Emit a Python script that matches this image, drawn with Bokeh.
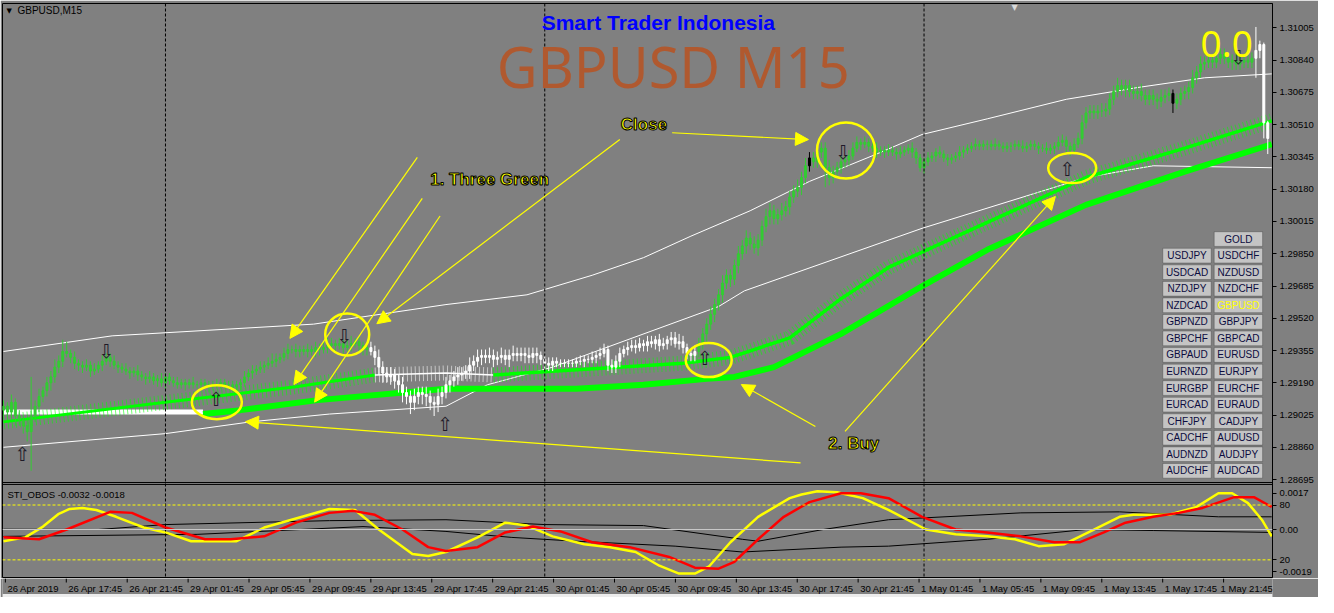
from bokeh.plotting import figure
from bokeh.layouts import column
from bokeh.models import (ColumnDataSource, FixedTicker, Span, Arrow, NormalHead, Label,
                          BoxAnnotation, Range1d)
from bokeh.core.properties import value
from bokeh.embed import file_html
from bokeh.resources import INLINE

# ---------------- data (GBPUSD M15, bar index 0 = 26 Apr 13:45) ----------------
closes = [
    1.2907, 1.2904, 1.2909, 1.2902, 1.2900, 1.2897, 1.2894, 1.2902, 1.2907, 1.2912,
    1.2915, 1.2919, 1.2922, 1.2927, 1.2930, 1.2935, 1.2934, 1.2932, 1.2929, 1.2928,
    1.2927, 1.2928, 1.2925, 1.2926, 1.2928, 1.2930, 1.2932, 1.2930, 1.2928, 1.2927,
    1.2926, 1.2925, 1.2924, 1.2925, 1.2923, 1.2922, 1.2921, 1.2922, 1.2920, 1.2921,
    1.2919, 1.2922, 1.2920, 1.2919, 1.2918, 1.2919, 1.2918, 1.2919, 1.2918, 1.2918,
    1.2919, 1.2918, 1.2917, 1.2918, 1.2918, 1.2919, 1.2918, 1.2918, 1.2917, 1.2918,
    1.2919, 1.2922, 1.2924, 1.2925, 1.2926, 1.2927, 1.2928, 1.2929, 1.2930, 1.2931,
    1.2932, 1.2934, 1.2936, 1.2936, 1.2935, 1.2936, 1.2935, 1.2936, 1.2935, 1.2937,
    1.2936, 1.2937, 1.2938, 1.2939, 1.2938, 1.2939, 1.2937, 1.2938, 1.2939, 1.2940,
    1.2938, 1.2936, 1.2937, 1.2935, 1.2932, 1.2927, 1.2924, 1.2922, 1.2923, 1.2920,
    1.2918, 1.2914, 1.2912, 1.2909, 1.2912, 1.2914, 1.2913, 1.2912, 1.2909, 1.2908,
    1.2912, 1.2914, 1.2918, 1.2920, 1.2922, 1.2923, 1.2924, 1.2925, 1.2928, 1.2930,
    1.2932, 1.2933, 1.2932, 1.2933, 1.2931, 1.2932, 1.2933, 1.2931, 1.2933, 1.2934,
    1.2933, 1.2934, 1.2933, 1.2932, 1.2934, 1.2933, 1.2931, 1.2929, 1.2928, 1.2930,
    1.2929, 1.2929, 1.2929, 1.2929, 1.2929, 1.2930, 1.2930, 1.2931, 1.2931, 1.2932,
    1.2933, 1.2934, 1.2936, 1.2928, 1.2927, 1.2930, 1.2934, 1.2936, 1.2937, 1.2938,
    1.2937, 1.2939, 1.2938, 1.2940, 1.2939, 1.2941, 1.2938, 1.2939, 1.2941, 1.2942,
    1.2939, 1.2940, 1.2937, 1.2934, 1.2933, 1.2935, 1.2939, 1.2944, 1.2949, 1.2954,
    1.2959, 1.2964, 1.2970, 1.2974, 1.2972, 1.2979, 1.2985, 1.2989, 1.2993, 1.2990,
    1.2988, 1.2992, 1.2999, 1.3004, 1.3007, 1.3003, 1.3005, 1.3007, 1.3009, 1.3014,
    1.3017, 1.3019, 1.3024, 1.3030, 1.3034, 1.3032, 1.3037, 1.3039, 1.3029, 1.3024,
    1.3027, 1.3029, 1.3032, 1.3033, 1.3035, 1.3039, 1.3042, 1.3041, 1.3042, 1.3040,
    1.3039, 1.3037, 1.3038, 1.3037, 1.3038, 1.3037, 1.3036, 1.3037, 1.3038, 1.3039,
    1.3037, 1.3034, 1.3029, 1.3032, 1.3034, 1.3035, 1.3037, 1.3036, 1.3034, 1.3033,
    1.3034, 1.3035, 1.3037, 1.3038, 1.3039, 1.3040, 1.3041, 1.3040, 1.3041, 1.3041,
    1.3040, 1.3041, 1.3040, 1.3039, 1.3040, 1.3040, 1.3041, 1.3040, 1.3039, 1.3040,
    1.3041, 1.3040, 1.3039, 1.3039, 1.3038, 1.3039, 1.3040, 1.3042, 1.3043, 1.3040,
    1.3038, 1.3041, 1.3044, 1.3052, 1.3057, 1.3058, 1.3057, 1.3058, 1.3058, 1.3059,
    1.3064, 1.3068, 1.3071, 1.3069, 1.3071, 1.3068, 1.3067, 1.3068, 1.3066, 1.3064,
    1.3066, 1.3064, 1.3063, 1.3065, 1.3066, 1.3067, 1.3062, 1.3064, 1.3067, 1.3068,
    1.3070, 1.3075, 1.3078, 1.3082, 1.3083, 1.3084, 1.3083, 1.3085, 1.3087, 1.3085,
    1.3083, 1.3084, 1.3082, 1.3083, 1.3084, 1.3083, 1.3085, 1.3089, 1.3092, 1.3052,
    1.3044]
first_open = 1.2905
# wick lengths in pips (0.0001) above / below the candle body
wick_up = [
    3, 2, 4, 2, 3, 2, 3, 20, 3, 4, 2, 3, 3, 4, 3, 6, 5, 2, 3, 2,
    2, 3, 2, 3, 2, 3, 2, 2, 3, 2, 2, 3, 2, 2, 3, 2, 2, 3, 2, 2,
    3, 2, 2, 2, 3, 2, 2, 2, 3, 2, 2, 2, 2, 2, 3, 2, 2, 2, 2, 2,
    2, 3, 2, 3, 2, 3, 2, 3, 4, 3, 2, 3, 3, 2, 3, 2, 2, 3, 2, 3,
    2, 3, 4, 3, 2, 3, 2, 3, 4, 2, 3, 2, 3, 3, 3, 4, 3, 3, 4, 3,
    3, 4, 3, 3, 4, 3, 3, 4, 3, 3, 4, 3, 4, 3, 3, 4, 3, 3, 4, 3,
    4, 3, 3, 4, 3, 3, 4, 3, 3, 4, 3, 3, 3, 4, 3, 3, 2, 2, 3, 2,
    2, 2, 2, 2, 2, 2, 3, 2, 2, 3, 2, 3, 3, 2, 3, 3, 3, 2, 3, 3,
    3, 3, 2, 3, 3, 2, 3, 3, 2, 3, 3, 4, 3, 2, 2, 3, 3, 3, 3, 4,
    3, 3, 4, 3, 3, 3, 4, 3, 4, 3, 4, 3, 3, 4, 4, 3, 3, 4, 3, 3,
    3, 4, 3, 4, 3, 3, 4, 3, 3, 4, 3, 3, 3, 2, 3, 3, 3, 2, 3, 2,
    2, 3, 2, 2, 3, 2, 2, 3, 2, 2, 3, 2, 2, 2, 3, 2, 2, 3, 2, 2,
    2, 2, 3, 2, 2, 2, 3, 2, 2, 2, 2, 3, 2, 2, 2, 2, 2, 2, 3, 2,
    2, 2, 2, 2, 3, 2, 2, 3, 3, 2, 2, 3, 3, 4, 3, 3, 3, 3, 4, 3,
    3, 3, 4, 3, 3, 3, 3, 3, 4, 3, 3, 3, 3, 4, 3, 3, 2, 3, 3, 3,
    3, 4, 3, 4, 3, 3, 3, 4, 3, 3, 3, 3, 3, 3, 3, 3, 3, 12, 2, 1,
    1]
wick_dn = [
    3, 4, 3, 5, 3, 4, 5, 20, 3, 3, 3, 3, 4, 3, 3, 3, 2, 3, 3, 3,
    3, 2, 3, 2, 2, 3, 2, 3, 2, 3, 2, 2, 3, 2, 3, 2, 3, 2, 2, 3,
    2, 3, 2, 2, 2, 2, 3, 2, 2, 2, 2, 2, 3, 2, 2, 2, 2, 2, 3, 2,
    3, 2, 2, 3, 2, 2, 3, 2, 2, 3, 2, 2, 3, 2, 3, 3, 2, 3, 2, 3,
    3, 2, 3, 2, 3, 2, 3, 2, 3, 2, 3, 3, 3, 2, 4, 4, 5, 3, 4, 4,
    4, 5, 4, 6, 4, 4, 5, 5, 4, 6, 4, 4, 3, 4, 3, 4, 3, 3, 4, 3,
    3, 4, 3, 3, 4, 3, 3, 3, 4, 3, 3, 3, 4, 3, 3, 4, 3, 3, 3, 3,
    2, 2, 2, 2, 2, 2, 2, 3, 2, 2, 3, 2, 2, 3, 3, 3, 3, 2, 3, 2,
    3, 2, 3, 3, 2, 3, 3, 2, 3, 3, 2, 3, 3, 3, 3, 3, 3, 3, 4, 3,
    4, 3, 4, 3, 4, 3, 4, 3, 4, 3, 3, 4, 3, 3, 4, 3, 3, 3, 3, 4,
    3, 3, 4, 3, 3, 3, 3, 3, 10, 4, 3, 3, 3, 3, 3, 2, 2, 3, 2, 3,
    2, 3, 2, 3, 2, 2, 3, 2, 2, 2, 3, 3, 2, 3, 2, 2, 3, 2, 2, 3,
    2, 2, 2, 3, 2, 2, 2, 2, 2, 3, 2, 2, 2, 2, 2, 3, 2, 2, 2, 2,
    2, 2, 3, 2, 2, 2, 3, 2, 2, 3, 3, 2, 2, 3, 3, 3, 3, 3, 3, 3,
    3, 3, 3, 3, 4, 3, 3, 3, 3, 3, 3, 3, 4, 3, 3, 3, 5, 3, 3, 3,
    4, 3, 3, 3, 3, 3, 3, 3, 3, 3, 3, 4, 3, 3, 3, 3, 3, 10, 4, 8,
    8]
white_spans = [(93, 175), (317, 320)]   # bars drawn white (down-trend colouring)
black_bars = [204, 296]

# moving averages / bands (bar index, price)
fast_x = [0, 41, 74, 94, 112, 124, 172, 184, 199, 212, 224, 249, 274, 299, 321]
fast_y = [1.2899, 1.2909, 1.2917, 1.2923, 1.2924, 1.2923, 1.2929, 1.2932, 1.2942,
          1.2962, 1.2978, 1.3001, 1.3024, 1.3039, 1.3053]
slow_white_x = [0, 50.5]
slow_white_y = [1.2904, 1.2904]
slow_x = [50.5, 60, 79, 112, 145, 162, 178, 185, 195, 199, 212, 233, 249, 274, 299, 321]
slow_y = [1.2903, 1.2905, 1.2910, 1.2916, 1.2916, 1.2918, 1.2921, 1.2922, 1.2927,
          1.2931, 1.2944, 1.2969, 1.2987, 1.3010, 1.3027, 1.3041]
upper_x = [0, 27.5, 78.5, 112, 132.5, 149, 162, 174, 189, 204, 221, 232.5, 249, 269, 287, 304, 321]
upper_y = [1.2935, 1.2943, 1.2949, 1.2959, 1.2964, 1.2974, 1.2983, 1.2994, 1.3007,
           1.3022, 1.3036, 1.3046, 1.3054, 1.3064, 1.3070, 1.3075, 1.3077]
lower_x = [0, 41, 62.5, 82.5, 112, 122.5, 139, 181, 187.5, 232.5, 274, 291, 321]
lower_y = [1.2886, 1.2893, 1.2899, 1.2903, 1.2907, 1.2918, 1.2927, 1.2958, 1.2966,
           1.2998, 1.3024, 1.3030, 1.3029]

# STI_OBOS sub-window (oscillator units), (bar, value)
yellow_pts = [(0, 40.4), (5.5, 44.6), (10, 56.4), (14, 70.4), (16.75, 75.7), (20, 76.8),
              (23.5, 74.6), (28.5, 67.1), (35.5, 55.4), (41, 50.0), (47.5, 40.4), (59, 40.4),
              (66, 55.4), (82.5, 75.7), (89, 74.6), (95, 53.2), (103.5, 26.4), (107.5, 24.3),
              (112, 28.6), (120, 44.6), (127, 60.7), (132.5, 57.5), (139, 45.7), (147, 37.1),
              (153.5, 33.9), (160, 28.6), (166, 13.6), (171, 5.0), (175, 5.0), (178.5, 12.5),
              (184, 39.3), (191, 67.1), (199, 87.5), (202, 91.5), (206, 95.0), (211, 93.9),
              (214, 91.0), (217.5, 87.5), (224, 74.6), (233.5, 53.2), (241, 47.9), (249, 45.7),
              (256, 42.5), (262, 35.0), (268.5, 37.1), (276, 53.2), (282.5, 67.1), (286, 69.3),
              (295, 69.3), (302, 77.9), (307.5, 92.9), (311, 92.9), (315, 82.1), (318.5, 63.9),
              (321, 45.7)]
red_pts = [(0, 44.6), (9, 42.5), (16, 53.2), (27, 72.5), (32.5, 71.4), (41, 55.4), (51, 42.5),
           (57.5, 42.5), (66, 45.7), (74, 60.7), (82.5, 71.4), (88.5, 73.6), (94, 69.3),
           (101, 53.2), (107.5, 33.9), (112, 29.6), (120, 33.9), (127, 50.0), (134, 56.4),
           (141, 51.1), (149, 39.3), (158.5, 33.9), (168.5, 23.2), (175, 11.4), (181, 10.4),
           (185, 17.9), (191, 42.5), (197.5, 67.1), (204, 83.2), (212, 92.9), (217, 92.9),
           (224, 87.5), (232.5, 67.1), (241, 53.2), (249, 50.0), (257.5, 45.7), (266, 39.3),
           (272.5, 39.3), (278.5, 50.0), (284, 60.7), (291, 67.1), (297.5, 71.4), (303.5, 76.8),
           (311.5, 88.6), (316.5, 88.6), (321, 77.9)]
blacka_pts = [(0, 53.5), (24, 53.2), (41, 58.6), (82.5, 62.9), (112, 63.9), (137, 58.6),
              (162, 57.5), (187, 42.5), (191, 40.4), (207.5, 53.2), (224, 63.9), (257.5, 71.4),
              (282.5, 72.5), (307.5, 67.1), (321, 67.1)]
blackb_pts = [(0, 45.7), (49, 47.9), (91, 56.4), (112, 51.1), (128.5, 44.6), (145, 40.4),
              (170, 35.0), (187, 28.6), (212, 33.9), (224, 35.0), (249, 42.5), (274, 53.2),
              (291, 52.1), (321, 50.0)]
ind_ticks = [92.9, 80.0, 53.2, 20.0, 7.1]
ind_tick_labels = ["0.0017", "80", "0.00", "20", "-0.0019"]
zero_level = 53.2
ob_level, os_level = 80.0, 20.0

price_ticks = [1.31005, 1.30840, 1.30675, 1.30510, 1.30345, 1.30180, 1.30015, 1.29850,
               1.29685, 1.29520, 1.29355, 1.29190, 1.29025, 1.28860, 1.28695]
time_tick_bars = list(range(0, 321, 16))
time_tick_labels = ["26 Apr 2019", "26 Apr 17:45", "26 Apr 21:45", "29 Apr 01:45",
                    "29 Apr 05:45", "29 Apr 09:45", "29 Apr 13:45", "29 Apr 17:45",
                    "29 Apr 21:45", "30 Apr 01:45", "30 Apr 05:45", "30 Apr 09:45",
                    "30 Apr 13:45", "30 Apr 17:45", "30 Apr 21:45", "1 May 01:45",
                    "1 May 05:45", "1 May 09:45", "1 May 13:45", "1 May 17:45", "1 May 21:45"]
day_breaks = [41, 137, 233]

# annotations drawn on the chart (bar index, price)
arrow_x0 = [104.75, 106.0, 110.5, 156.0, 169.25, 205.5, 201.75, 213.0]
arrow_y0 = [1.30343, 1.30133, 1.30043, 1.30434, 1.30469, 1.28966, 1.28780, 1.28941]
arrow_x1 = [72.5, 73.5, 78.75, 94.5, 203.75, 186.75, 61.25, 266.25]
arrow_y1 = [1.29417, 1.29181, 1.29091, 1.29492, 1.30434, 1.29181, 1.28991, 1.30143]
ring_x = [54.0, 87.0, 178.5, 213.25, 270.5]
ring_y = [1.29091, 1.29437, 1.29306, 1.30378, 1.30288]
ring_w = [50, 44, 46, 58, 48]
ring_h = [34, 42, 34, 56, 30]
up_x = [4.75, 53.75, 111.75, 177.5, 269.25]
up_y = [1.28825, 1.29106, 1.28981, 1.29316, 1.30283]
dn_x = [26.0, 86.25, 212.5, 312.5]
dn_y = [1.29351, 1.29427, 1.30368, 1.30854]
note_text = ["1. Three Green", "Close", "2. Buy"]
note_x = [108.0, 156.25, 208.75]
note_y = [1.30228, 1.30509, 1.28881]

pairs_left = [None, "USDJPY", "USDCAD", "NZDJPY", "NZDCAD", "GBPNZD", "GBPCHF", "GBPAUD",
              "EURNZD", "EURGBP", "EURCAD", "CHFJPY", "CADCHF", "AUDNZD", "AUDCHF"]
pairs_right = ["GOLD", "USDCHF", "NZDUSD", "NZDCHF", "GBPUSD", "GBPJPY", "GBPCAD", "EURUSD",
               "EURJPY", "EURCHF", "EURAUD", "CADJPY", "AUDUSD", "AUDJPY", "AUDCAD"]
active_pair = "GBPUSD"

# ---------------- derived candle table ----------------
n = len(closes)
bars = list(range(n))
opens = [first_open] + closes[:-1]
highs = [max(o, c) + u * 0.0001 for o, c, u in zip(opens, closes, wick_up)]
lows = [min(o, c) - d * 0.0001 for o, c, d in zip(opens, closes, wick_dn)]
colors = []
for i in bars:
    col = "#33cc33"
    for a, b in white_spans:
        if a <= i <= b:
            col = "white"
    if i in black_bars:
        col = "black"
    colors.append(col)
candles = ColumnDataSource(dict(x=bars, h=highs, l=lows,
                                top=[max(o, c) for o, c in zip(opens, closes)],
                                bottom=[min(o, c) for o, c in zip(opens, closes)],
                                color=colors))

# ---------------- geometry ----------------
BG = "#808080"
FONT = "Liberation Sans"
W = 1318
LB, RB = 2, 46
FRAME_W = W - LB - RB
H_MAIN = 578
TOP_B, BOT_B = 3, 1
FRAME_H = H_MAIN - TOP_B - BOT_B
H_STRIP = 597 - H_MAIN
X0, X1 = -0.25, 321.2
PX_PER_BAR = FRAME_W / (X1 - X0)

# reference panel geometry (pixels of the MT4 window) used to stack both panes in one frame
REF_TOP, REF_SPLIT, REF_IND_TOP, REF_BOT = 3, 492, 494, 589
P_MAIN_LO, P_TOP = 1.28680, 1.31130
p_per_px = (P_TOP - P_MAIN_LO) / (REF_SPLIT - REF_TOP)
P_LO = P_TOP - (REF_BOT - REF_TOP) * p_per_px
IND_LO, IND_HI = 0.7, 102.5
i_per_px = (IND_HI - IND_LO) / (REF_BOT - REF_IND_TOP)
IND_TOP = IND_LO + (REF_BOT - REF_TOP) * i_per_px


def ind_to_price(v):
    return P_LO + (v - IND_LO) / (IND_TOP - IND_LO) * (P_TOP - P_LO)


p = figure(width=W, height=H_MAIN, x_range=Range1d(X0, X1), y_range=Range1d(P_LO, P_TOP),
           output_backend="svg", toolbar_location=None, x_axis_location=None,
           y_axis_location="right", min_border_left=LB, min_border_right=RB,
           min_border_top=TOP_B, min_border_bottom=BOT_B, background_fill_color=BG,
           border_fill_color=BG, outline_line_color="black", outline_line_width=1)
p.extra_y_ranges = {"ind": Range1d(IND_LO, IND_TOP)}
p.grid.visible = False

all_ticks = price_ticks + [ind_to_price(v) for v in ind_ticks]
all_labels = ["%.5f" % t for t in price_ticks] + ind_tick_labels
ya = p.yaxis[0]
ya.ticker = FixedTicker(ticks=all_ticks, minor_ticks=[])
ya.major_label_overrides = dict(zip(all_ticks, all_labels))
ya.major_label_text_font = FONT
ya.major_label_text_font_size = "9.5px"
ya.major_label_text_color = "black"
ya.axis_line_color = "black"
ya.major_tick_line_color = "black"
ya.major_tick_out = 4
ya.major_tick_in = 0
ya.minor_tick_out = 0
ya.minor_tick_in = 0
ya.major_label_standoff = 3

# pane separators
p.add_layout(Span(location=P_MAIN_LO, dimension="width", line_color="black", line_width=1))
p.add_layout(Span(location=IND_HI, dimension="width", y_range_name="ind",
                  line_color="black", line_width=1))

for d in day_breaks:
    p.add_layout(Span(location=d, dimension="height", line_color="black",
                      line_dash="3 2", line_width=1))

# ---------- main pane ----------
p.line(upper_x, upper_y, line_color="white", line_width=1)
p.line(lower_x, lower_y, line_color="white", line_width=1)
p.line(slow_white_x, slow_white_y, line_color="white", line_width=5)
p.line(slow_x, slow_y, line_color="#00ff00", line_width=6)

seg_g1 = (fast_x[:4], fast_y[:4])
seg_w = (fast_x[3:6], fast_y[3:6])
seg_g2 = (fast_x[5:], fast_y[5:])
for (sx_, sy_), colr, wd in [(seg_g1, "#00ff00", 3), (seg_w, "white", 1.5), (seg_g2, "#00ff00", 3.5)]:
    p.line(sx_, sy_, line_color=colr, line_width=15, line_dash="1 3", line_alpha=0.55)
    p.line(sx_, sy_, line_color=colr, line_width=wd)

p.segment(x0="x", y0="l", x1="x", y1="h", line_color="color", line_width=1, source=candles)
p.vbar(x="x", width=0.5, top="top", bottom="bottom", fill_color="color",
       line_color="color", line_width=1, source=candles)

p.text(x=up_x, y=up_y, text=["\u21e7"] * len(up_x), text_font=value("DejaVu Sans"),
       text_font_size="19px", text_align="center", text_baseline="middle", text_color="#1e1a28")
p.text(x=dn_x, y=dn_y, text=["\u21e9"] * len(dn_x), text_font=value("DejaVu Sans"),
       text_font_size="19px", text_align="center", text_baseline="middle", text_color="#1e1a28")

p.ellipse(x=ring_x, y=ring_y, width=ring_w, height=ring_h, width_units="screen",
          height_units="screen", fill_alpha=0, line_color="#ffff00", line_width=2.5)
asrc = ColumnDataSource(dict(x0=arrow_x0, y0=arrow_y0, x1=arrow_x1, y1=arrow_y1))
p.add_layout(Arrow(end=NormalHead(size=13, fill_color="#ffff00", line_color="#ffff00"),
                   x_start="x0", y_start="y0", x_end="x1", y_end="y1", source=asrc,
                   line_color="#ffff00", line_width=1.2))

for t, x, y in zip(note_text, note_x, note_y):
    p.add_layout(Label(x=x, y=y, text=t, text_font=FONT, text_font_style="bold",
                       text_font_size="17px", text_color="#ffff00", text_baseline="middle",
                       text_align="left", text_outline_color="black"))

p.add_layout(Label(x=165.75, y=1.31035, text="Smart Trader Indonesia", text_font=FONT,
                   text_font_style="bold", text_font_size="21px", text_color="#0000ff",
                   text_align="center", text_baseline="middle"))
p.add_layout(Label(x=169.5, y=1.30812, text="GBPUSD M15", text_font="Noto Sans",
                   text_font_size="56px", text_color="#b0592f",
                   text_align="center", text_baseline="middle"))
p.add_layout(Label(x=303.0, y=1.30925, text="0.0", text_font="Noto Sans",
                   text_font_size="37px", text_color="#ffff00",
                   text_align="left", text_baseline="middle"))


def sx(xref):
    return (xref - 3) * FRAME_W / 1285.0


def sy(yref):
    return FRAME_H - (yref - REF_TOP) * FRAME_H / float(REF_BOT - REF_TOP)


p.add_layout(Label(x=4, y=sy(7), x_units="screen", y_units="screen", text="\u25bc",
                   text_font="DejaVu Sans", text_font_size="7px", text_color="black",
                   text_baseline="top"))
p.add_layout(Label(x=15, y=sy(5), x_units="screen", y_units="screen",
                   text="GBPUSD,M15", text_font=FONT, text_font_size="10px",
                   text_color="black", text_baseline="top"))
p.add_layout(Label(x=sx(1027), y=sy(2), x_units="screen", y_units="screen", text="\u25bc",
                   text_font="DejaVu Sans", text_font_size="8px", text_color="#d8d8d8",
                   text_baseline="top", text_align="center"))

for r, (lft, rgt) in enumerate(zip(pairs_left, pairs_right)):
    top = 236 + 16.9 * r
    for name, x0, x1 in [(lft, 1177, 1226), (rgt, 1229, 1278)]:
        if name is None:
            continue
        p.add_layout(BoxAnnotation(left=sx(x0), right=sx(x1), top=sy(top), bottom=sy(top + 15),
                                   left_units="screen", right_units="screen",
                                   top_units="screen", bottom_units="screen",
                                   fill_color="#c4c4c4", fill_alpha=1, line_color="#202020",
                                   line_width=1, level="overlay"))
        p.add_layout(Label(x=(sx(x0) + sx(x1)) / 2, y=sy(top + 7.5), x_units="screen",
                           y_units="screen", text=name, text_font=FONT, text_font_size="10px",
                           text_color="#ffff00" if name == active_pair else "#0c0c40",
                           text_align="center", text_baseline="middle", level="overlay"))

# ---------- indicator pane ----------
p.add_layout(Span(location=zero_level, dimension="width", y_range_name="ind",
                  line_color="#c8c8c8", line_width=1))
for lv in (ob_level, os_level):
    p.add_layout(Span(location=lv, dimension="width", y_range_name="ind",
                      line_color="#ffff00", line_dash="3 2", line_width=1))
for pts, colr, wd in [(blacka_pts, "black", 1), (blackb_pts, "black", 1),
                      (yellow_pts, "#ffff00", 2.5), (red_pts, "#ff0000", 2.5)]:
    xs, vs = zip(*pts)
    p.line(list(xs), list(vs), y_range_name="ind", line_color=colr, line_width=wd,
           line_join="round")
p.add_layout(Label(x=5, y=sy(499), x_units="screen", y_units="screen",
                   text="STI_OBOS -0.0032 -0.0018", text_font=FONT, text_font_size="9.5px",
                   text_color="black", text_baseline="top"))

# ---------- time scale strip ----------
s_x0 = X0 - LB / PX_PER_BAR
s_x1 = s_x0 + W / PX_PER_BAR
s = figure(width=W, height=H_STRIP, x_range=Range1d(s_x0, s_x1), y_range=Range1d(0, H_STRIP),
           output_backend="svg", toolbar_location=None, x_axis_location=None,
           y_axis_location=None, min_border=0, background_fill_color=BG,
           border_fill_color=BG, outline_line_color=None)
s.grid.visible = False
s.segment(x0=time_tick_bars, y0=[H_STRIP] * len(time_tick_bars), x1=time_tick_bars,
          y1=[H_STRIP - 4] * len(time_tick_bars), line_color="black", line_width=1)
dx = [2] * (len(time_tick_bars) - 1) + [-3]
s.text(x=time_tick_bars, y=[H_STRIP - 10] * len(time_tick_bars), text=time_tick_labels,
       x_offset=dx, text_font=value(FONT), text_font_size="9.5px", text_color="black",
       text_align="left", text_baseline="middle")
s.quad(left=[s_x0], right=[s_x1], bottom=[0], top=[3.5], fill_color="#ececec",
       line_color=None)

layout = column(p, s, spacing=0)
open("out.html", "w").write(file_html(layout, INLINE))
